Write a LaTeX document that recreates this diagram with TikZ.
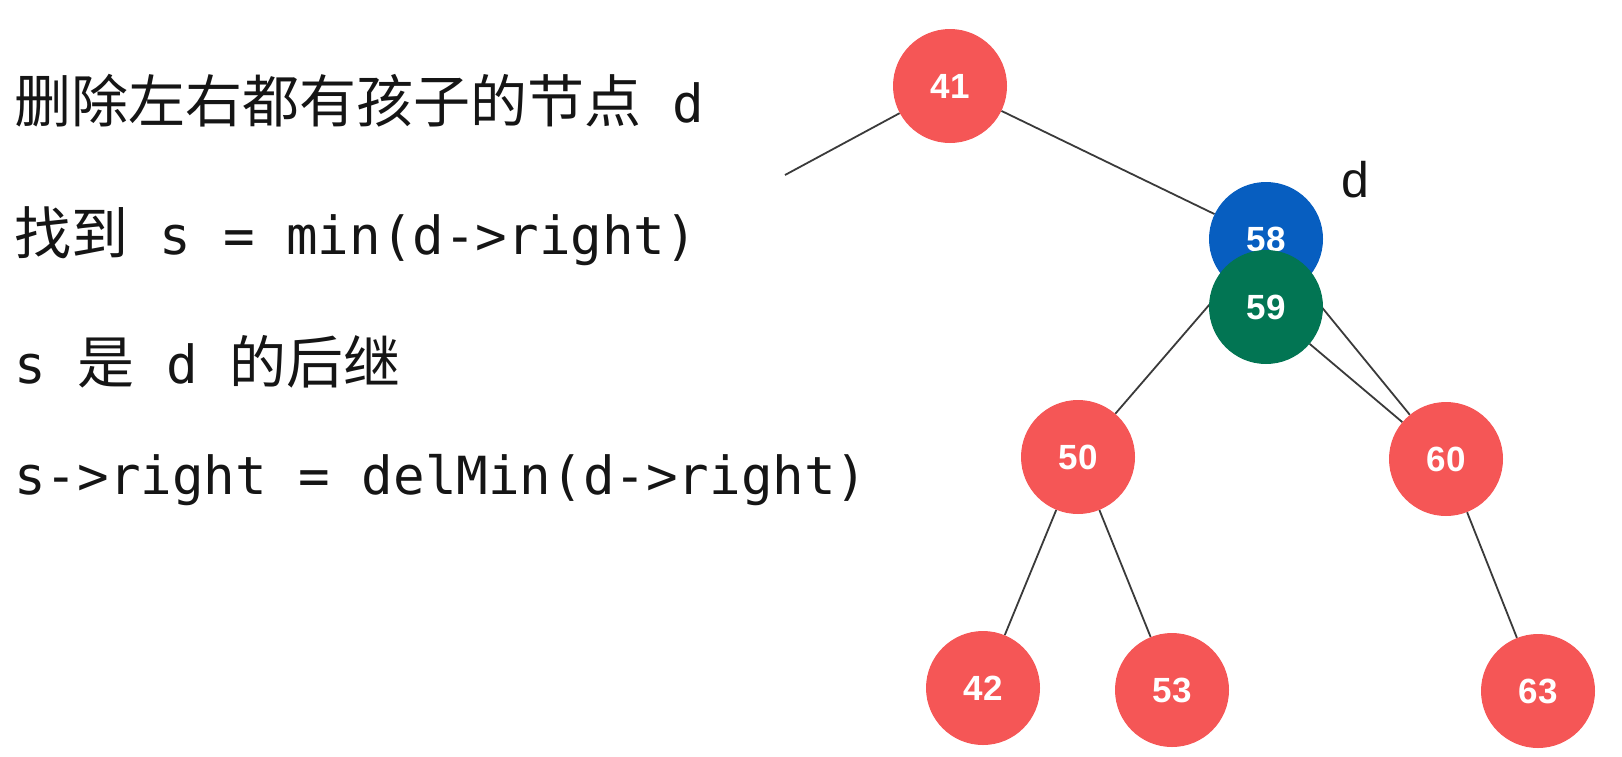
\documentclass[tikz,border=0pt]{standalone}
\usepackage{fontspec}
\setmainfont{DejaVu Sans Mono}
\newfontfamily\cjk{Noto Sans CJK SC}
\newfontfamily\numfont{Liberation Sans}
\definecolor{nodered}{HTML}{F55656}
\definecolor{nodeblue}{HTML}{075EC0}
\definecolor{nodegreen}{HTML}{027553}
\definecolor{edgegray}{HTML}{3A3A3A}
\definecolor{txtcol}{HTML}{151515}
\pgfdeclarelayer{bg}
\pgfsetlayers{bg,main}
\newcommand\cjktext[1]{{\cjk\fontsize{57}{57}\selectfont #1}}
\begin{document}
\begin{tikzpicture}[x=1pt,y=-1pt,
  tnode/.style={circle, minimum size=114pt, inner sep=0pt, text=white,
    font=\numfont\bfseries\fontsize{35}{35}\selectfont},
  rednode/.style={tnode, fill=nodered},
  bluenode/.style={tnode, fill=nodeblue},
  greennode/.style={tnode, fill=nodegreen},
  edge/.style={draw=edgegray, line width=1.8pt},
  txt/.style={anchor=base west, inner sep=0pt, text=txtcol, font=\fontsize{52.5}{52.5}\selectfont},
]
\useasboundingbox (0,0) rectangle (1622,756);

% text lines
\node[txt] (t1) at (14,122) {\cjktext{删除左右都有孩子的节点} d};
\node[txt] (t2) at (14,254) {\cjktext{找到} s = min(d->right)};
\node[txt] (t3) at (14,383) {s \cjktext{是} d \cjktext{的后继}};
\node[txt] (t4) at (14,494) {s->right = delMin(d->right)};

% tree nodes
\node[rednode] (n41) at (950,86) {41};
\node[bluenode] (n58) at (1266,239) {58};
\node[greennode] (n59) at (1266,307) {59};
\node[rednode] (n50) at (1078,457) {50};
\node[rednode] (n60) at (1446,459) {60};
\node[rednode] (n42) at (983,688) {42};
\node[rednode] (n53) at (1172,690) {53};
\node[rednode] (n63) at (1538,691) {63};

\node[anchor=center, inner sep=0pt, text=txtcol, font=\numfont\fontsize{50}{50}\selectfont] (dlab) at (1355,180) {d};

\coordinate (free) at (785,175);

\begin{pgfonlayer}{bg}
\draw[edge] (n41) -- (free);
\draw[edge] (n41) -- (n58);
\draw[edge] (n58) -- (n50);
\draw[edge] (n58) -- (n60);
\draw[edge] (n59) -- (n60);
\draw[edge] (n50) -- (n42);
\draw[edge] (n50) -- (n53);
\draw[edge] (n60) -- (n63);
\end{pgfonlayer}
\end{tikzpicture}
\end{document}
